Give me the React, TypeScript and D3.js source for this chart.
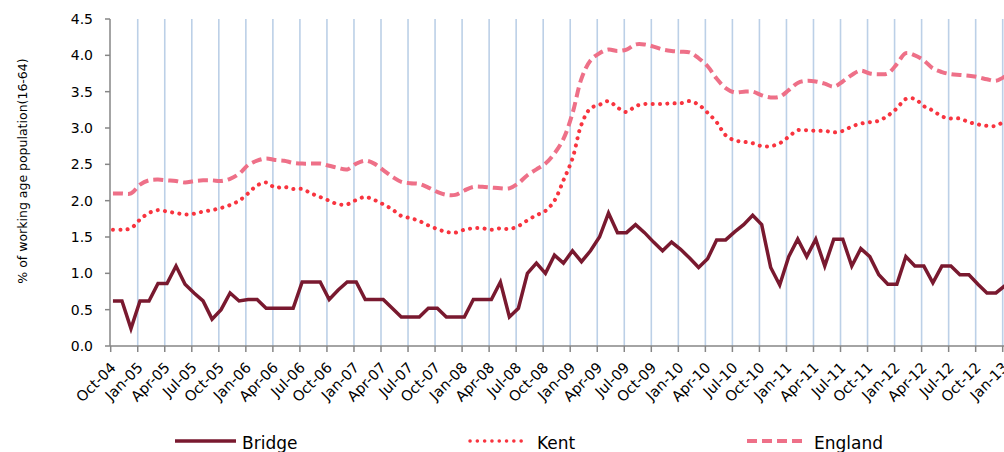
import React from "react";
import * as d3 from "d3";

const tickLabels = [
  "Oct-04","Jan-05","Apr-05","Jul-05","Oct-05","Jan-06","Apr-06","Jul-06","Oct-06",
  "Jan-07","Apr-07","Jul-07","Oct-07","Jan-08","Apr-08","Jul-08","Oct-08","Jan-09",
  "Apr-09","Jul-09","Oct-09","Jan-10","Apr-10","Jul-10","Oct-10","Jan-11","Apr-11",
  "Jul-11","Oct-11","Jan-12","Apr-12","Jul-12","Oct-12","Jan-13"
];

const yTicks = [0, 0.5, 1, 1.5, 2, 2.5, 3, 3.5, 4, 4.5];

// Monthly values, Oct-04 .. Jan-13
const bridge = [
  0.62,0.62,0.24,0.62,0.62,0.86,0.86,1.10,0.85,0.73,
  0.62,0.37,0.50,0.73,0.62,0.64,0.64,0.52,0.52,0.52,
  0.52,0.88,0.88,0.88,0.64,0.77,0.88,0.88,0.64,0.64,
  0.64,0.52,0.40,0.40,0.40,0.52,0.52,0.40,0.40,0.40,
  0.64,0.64,0.64,0.88,0.40,0.52,1.00,1.14,1.00,1.25,
  1.14,1.31,1.16,1.31,1.50,1.83,1.56,1.56,1.67,1.56,
  1.43,1.31,1.43,1.33,1.21,1.08,1.20,1.46,1.46,1.57,
  1.67,1.80,1.67,1.08,0.84,1.23,1.47,1.23,1.47,1.10,
  1.47,1.47,1.10,1.34,1.23,0.98,0.85,0.85,1.23,1.10,
  1.10,0.87,1.10,1.10,0.98,0.98,0.85,0.73,0.73,0.83
];

const kent = [
  1.60,1.60,1.62,1.74,1.83,1.87,1.85,1.83,1.81,1.82,
  1.85,1.87,1.90,1.94,2.00,2.10,2.21,2.25,2.18,2.19,
  2.16,2.16,2.10,2.05,2.00,1.95,1.95,2.01,2.05,2.01,
  1.95,1.88,1.79,1.76,1.72,1.66,1.61,1.57,1.56,1.60,
  1.62,1.62,1.60,1.62,1.61,1.65,1.73,1.80,1.86,2.00,
  2.28,2.58,3.05,3.27,3.32,3.37,3.28,3.22,3.30,3.33,
  3.33,3.33,3.34,3.34,3.37,3.32,3.21,3.08,2.90,2.83,
  2.81,2.79,2.75,2.75,2.79,2.88,2.97,2.97,2.96,2.96,
  2.94,2.96,3.02,3.06,3.08,3.10,3.17,3.27,3.40,3.40,
  3.30,3.24,3.16,3.13,3.13,3.08,3.05,3.03,3.03,3.10
];

const england = [
  2.10,2.10,2.10,2.22,2.28,2.29,2.28,2.27,2.25,2.27,
  2.28,2.28,2.27,2.30,2.37,2.49,2.55,2.58,2.56,2.55,
  2.52,2.51,2.51,2.51,2.48,2.45,2.43,2.51,2.55,2.51,
  2.42,2.33,2.26,2.24,2.23,2.18,2.12,2.08,2.08,2.14,
  2.19,2.19,2.18,2.17,2.17,2.24,2.35,2.43,2.51,2.65,
  2.85,3.20,3.68,3.93,4.03,4.08,4.06,4.08,4.15,4.15,
  4.12,4.08,4.06,4.05,4.04,3.96,3.85,3.68,3.55,3.49,
  3.50,3.50,3.45,3.42,3.43,3.52,3.62,3.65,3.64,3.61,
  3.57,3.64,3.73,3.79,3.75,3.74,3.75,3.88,4.03,4.00,
  3.93,3.82,3.77,3.74,3.73,3.72,3.70,3.67,3.65,3.71
];

const seriesNames = ["Bridge", "Kent", "England"];
const colors = { Bridge: "#79192f", Kent: "#f8343f", England: "#ee7088" };

const W = 1004;
const H = 452;
const FONT = "'DejaVu Sans', Verdana, sans-serif";

export default function App() {
  // month index -> px ; ticks sit a quarter month left of data points
  const x = d3.scaleLinear().domain([-0.25, 98.75]).range([110.7, 1002.7]);
  const y = d3.scaleLinear().domain([0, 4.5]).range([346, 19]);
  const axisLeft = 110;
  const yBottom = y(0);

  const straight = d3
    .line<number>()
    .x((_, i) => x(i))
    .y((d) => y(d));
  const smooth = d3
    .line<number>()
    .x((_, i) => x(i))
    .y((d) => y(d))
    .curve(d3.curveCatmullRom.alpha(0.5));

  const tickPos = tickLabels.map((_, k) => x(k * 3 - 0.25));

  return (
    <svg
      width={W}
      height={H}
      style={{ position: "absolute", left: 0, top: 0, background: "#fff" }}
      fontFamily={FONT}
    >
      {/* vertical gridlines */}
      {tickPos.slice(1).map((px, k) => (
        <line key={"g" + k} x1={px} x2={px} y1={y(4.5)} y2={yBottom} stroke="#bcd0e7" strokeWidth={1.6} />
      ))}

      {/* y axis */}
      <line x1={axisLeft} x2={axisLeft} y1={y(4.5)} y2={yBottom} stroke="#868686" strokeWidth={1.5} />
      {yTicks.map((t) => (
        <g key={"y" + t}>
          <line x1={axisLeft - 5} x2={axisLeft} y1={y(t)} y2={y(t)} stroke="#868686" strokeWidth={1.5} />
          <text x={93} y={y(t)} dy="0.36em" textAnchor="end" fontSize={14} fill="#000">
            {d3.format(".1f")(t)}
          </text>
        </g>
      ))}

      {/* x axis */}
      <line x1={axisLeft} x2={W + 20} y1={yBottom} y2={yBottom} stroke="#868686" strokeWidth={1.5} />
      {tickPos.map((px, k) => (
        <g key={"x" + k}>
          <line x1={px} x2={px} y1={yBottom} y2={yBottom + 6} stroke="#868686" strokeWidth={1.5} />
          <text
            transform={`translate(${px + 2.5},${yBottom + 19}) rotate(-45)`}
            dy="0.35em"
            textAnchor="end"
            fontSize={14.5}
            fill="#000"
          >
            {tickLabels[k]}
          </text>
        </g>
      ))}

      {/* y axis title */}
      <text
        transform={`translate(27,171) rotate(-90)`}
        textAnchor="middle"
        fontSize={12.5}
        fill="#000"
      >
        % of working age population(16-64)
      </text>

      {/* series */}
      <path d={smooth(england) || ""} fill="none" stroke={colors.England} strokeWidth={4} strokeDasharray="10 5" />
      <path
        d={smooth(kent) || ""}
        fill="none"
        stroke={colors.Kent}
        strokeWidth={4}
        strokeLinecap="round"
        strokeDasharray="0.1 7.2"
      />
      <path d={straight(bridge) || ""} fill="none" stroke={colors.Bridge} strokeWidth={3.5} strokeLinejoin="miter" />

      {/* legend */}
      {seriesNames.map((name, i) => {
        const lx = [175, 468, 747][i];
        const ly = 441;
        const c = (colors as any)[name];
        return (
          <g key={"l" + name}>
            {name === "Bridge" && <line x1={lx} x2={lx + 61} y1={ly} y2={ly} stroke={c} strokeWidth={3.5} />}
            {name === "Kent" && (
              <line x1={lx + 2} x2={lx + 58} y1={ly} y2={ly} stroke={c} strokeWidth={3.5} strokeLinecap="round" strokeDasharray="0.1 7.2" />
            )}
            {name === "England" && (
              <line x1={lx} x2={lx + 60} y1={ly} y2={ly} stroke={c} strokeWidth={4} strokeDasharray="10 5" />
            )}
            <text x={lx + (name === "Kent" ? 69 : 67)} y={449} fontSize={17} fill="#000">
              {name}
            </text>
          </g>
        );
      })}
    </svg>
  );
}
